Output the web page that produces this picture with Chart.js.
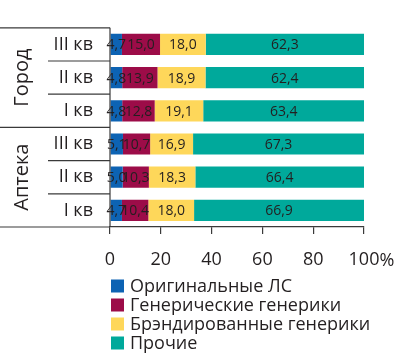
<!DOCTYPE html>
<html>
<head>
<meta charset="utf-8">
<script src="https://cdn.jsdelivr.net/npm/chart.js@4.4.0/dist/chart.umd.min.js"></script>
<style>
html,body{margin:0;padding:0;background:#fff;}
#wrap{width:400px;height:357px;position:relative;}
</style>
</head>
<body>
<div id="wrap"><canvas id="c" width="400" height="357"></canvas></div>
<script>
const categories = ['III кв','II кв','I кв','III кв','II кв','I кв'];
const groups = ['Город','Аптека'];
const groupSizes = [3,3];
const seriesNames = ['Оригинальные ЛС','Генерические генерики','Брэндированные генерики','Прочие'];
const original   = [4.7, 4.8, 4.8, 5.1, 5.0, 4.7];
const generic    = [15.0, 13.9, 12.8, 10.7, 10.3, 10.4];
const branded    = [18.0, 18.9, 19.1, 16.9, 18.3, 18.0];
const other      = [62.3, 62.4, 63.4, 67.3, 66.4, 66.9];
const xTicks = [0,20,40,60,80,100];
const colors = ['#0d63b3','#9c0c48','#fed75a','#00a99b'];

const FONT = '"Open Sans"';
const TXT = '#231f20';
const LINE = '#3a3a3a';

const fmt = v => v.toFixed(1).replace('.', ',');

const decor = {
  id: 'decor',
  afterDraw(chart) {
    const ctx = chart.ctx;
    const ys = chart.scales.y, xs = chart.scales.x;
    const area = chart.chartArea;
    ctx.save();
    // data labels
    ctx.font = '14px ' + FONT;
    ctx.fillStyle = TXT;
    ctx.textAlign = 'center';
    ctx.textBaseline = 'middle';
    chart.data.datasets.forEach((ds, i) => {
      const meta = chart.getDatasetMeta(i);
      meta.data.forEach((bar, j) => {
        const cx = (bar.x + bar.base) / 2;
        ctx.fillText(fmt(ds.data[j]), cx, bar.y + 1);
      });
    });
    // structure lines
    ctx.strokeStyle = LINE;
    ctx.lineWidth = 1.2;
    const hline = (x0, x1, y) => { ctx.beginPath(); ctx.moveTo(x0, y); ctx.lineTo(x1, y); ctx.stroke(); };
    hline(0, area.left, area.top);
    hline(0, area.left, area.bottom);
    let idx = 0;
    groups.forEach((g, gi) => {
      for (let k = 1; k < groupSizes[gi]; k++) {
        const yb = (ys.getPixelForValue(idx + k - 1) + ys.getPixelForValue(idx + k)) / 2;
        hline(48, area.left, yb);
      }
      idx += groupSizes[gi];
      if (gi < groups.length - 1) {
        const yb = (ys.getPixelForValue(idx - 1) + ys.getPixelForValue(idx)) / 2;
        hline(0, area.left, yb);
      }
    });
    ctx.beginPath(); ctx.moveTo(area.left, area.top); ctx.lineTo(area.left, area.bottom); ctx.stroke();
    // group labels
    ctx.font = '20px ' + FONT;
    ctx.fillStyle = TXT;
    idx = 0;
    groups.forEach((g, gi) => {
      const c = (ys.getPixelForValue(idx) + ys.getPixelForValue(idx + groupSizes[gi] - 1)) / 2;
      ctx.save();
      ctx.translate(22, c);
      ctx.rotate(-Math.PI / 2);
      ctx.textAlign = 'center';
      ctx.textBaseline = 'middle';
      ctx.fillText(g, 0, 0);
      ctx.restore();
      idx += groupSizes[gi];
    });
    // percent sign after last tick
    ctx.font = '18px ' + FONT;
    ctx.textAlign = 'left';
    ctx.textBaseline = 'middle';
    const lastX = xs.getPixelForValue(100);
    const w100 = ctx.measureText('100').width;
    ctx.fillText('%', lastX + w100 / 2, 261);
    // legend
    ctx.font = '18px ' + FONT;
    chart.data.datasets.forEach((ds, i) => {
      const yc = 286 + i * 19;
      ctx.fillStyle = ds.backgroundColor;
      ctx.fillRect(111, yc - 6.5, 13, 13);
      ctx.fillStyle = TXT;
      ctx.textAlign = 'left';
      ctx.fillText(ds.label, 130, yc + 1);
    });
    ctx.restore();
  }
};

const seriesData = [original, generic, branded, other];
new Chart(document.getElementById('c'), {
  type: 'bar',
  data: {
    labels: categories,
    datasets: seriesData.map((d, i) => ({
      label: seriesNames[i],
      data: d,
      backgroundColor: colors[i],
      borderWidth: 0,
      barPercentage: 0.8,
      categoryPercentage: 0.8
    }))
  },
  options: {
    indexAxis: 'y',
    responsive: false,
    animation: false,
    devicePixelRatio: 1,
    layout: { padding: { top: 3, left: 0, right: 36, bottom: 90 } },
    plugins: { legend: { display: false }, tooltip: { enabled: false } },
    scales: {
      x: {
        stacked: true,
        min: 0, max: 100,
        afterBuildTicks: s => { s.ticks = xTicks.map(v => ({ value: v })); },
        afterFit: s => { s.height = 40; },
        grid: { drawOnChartArea: false, drawTicks: true, tickLength: 7, color: LINE, lineWidth: 1.2 },
        border: { display: true, color: LINE, width: 1.2 },
        ticks: { color: TXT, font: { family: 'Open Sans', size: 18 }, padding: 15, maxRotation: 0, autoSkip: false,
                 callback: v => String(v) }
      },
      y: {
        stacked: true,
        afterFit: s => { s.width = 110; },
        grid: { display: false, drawTicks: false },
        border: { display: false },
        ticks: { color: TXT, font: { family: 'Open Sans', size: 18 }, padding: 17 }
      }
    }
  },
  plugins: [decor]
});
</script>
</body>
</html>
